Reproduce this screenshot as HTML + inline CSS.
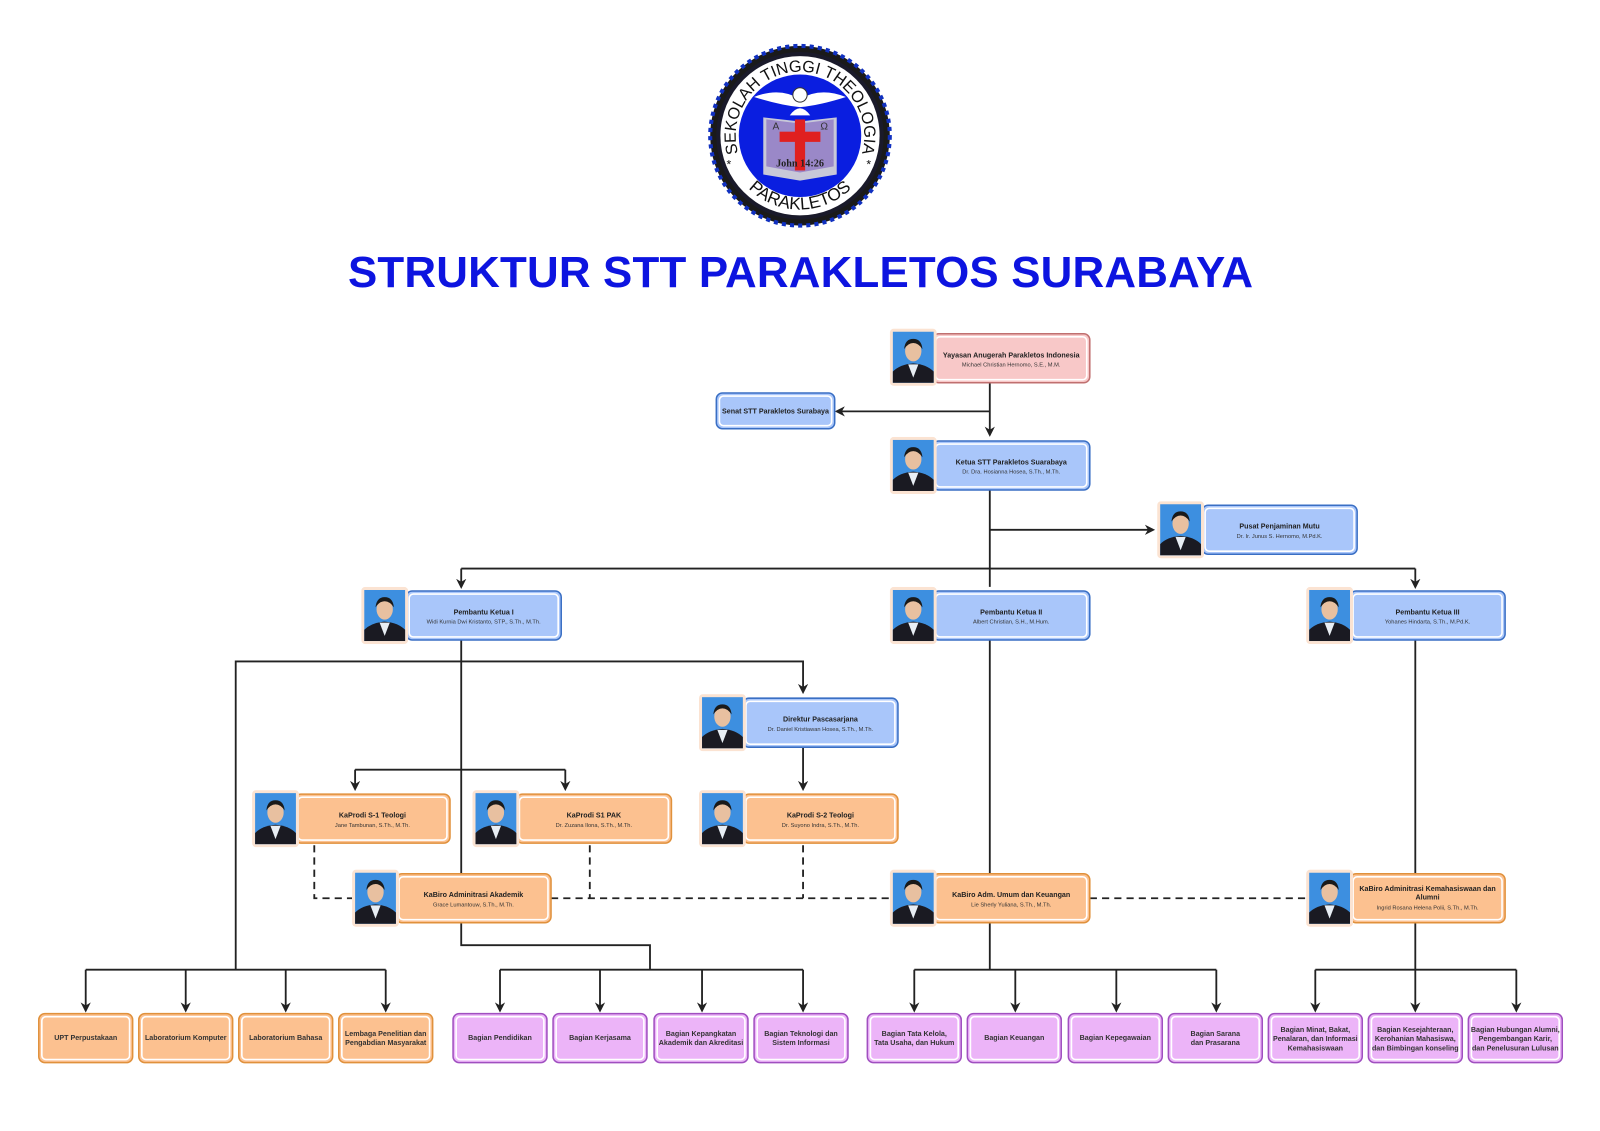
<!DOCTYPE html>
<html><head><meta charset="utf-8"><style>
html,body{margin:0;padding:0;background:#fff;}
svg{display:block}
text{font-family:"Liberation Sans",sans-serif;}
.t{font-size:7px;font-weight:bold;fill:#222;text-anchor:middle}
.s{font-size:5.6px;fill:#333;text-anchor:middle}
.b{font-size:7px;font-weight:bold;fill:#333;text-anchor:middle}
.ln{stroke:#222;stroke-width:1.8;fill:none}
.ds{stroke:#222;stroke-width:1.8;fill:none;stroke-dasharray:7,5}
.bl{fill:#a9c6fa;stroke:#3a6fc4;stroke-width:1.5}
.or{fill:#fcc190;stroke:#e0913c;stroke-width:1.5}
.pk{fill:#f8c8c8;stroke:#c07070;stroke-width:1.5}
.pu{fill:#ecb4f8;stroke:#a050c0;stroke-width:1.5}
.in{fill:none;stroke:#fff;stroke-width:1.6}
</style></head><body>
<svg width="1600" height="1131" viewBox="0 0 1568 1108" preserveAspectRatio="none" xmlns="http://www.w3.org/2000/svg">
<defs>
<marker id="a" markerWidth="10" markerHeight="10" refX="8" refY="5" orient="auto" markerUnits="userSpaceOnUse"><path d="M0,0 L10,5 L0,10 L3,5 z" fill="#222"/></marker>
<symbol id="ph" viewBox="0 0 46 56">
<rect x="0" y="0" width="46" height="56" rx="4" fill="#fbe3d2"/>
<rect x="3" y="3" width="40" height="50" fill="#3d8fe0"/>
<path d="M3,53 L3,42 Q10,35 23,34 Q36,35 43,42 L43,53 z" fill="#1a1a22"/>
<path d="M18,35 L23,48 L28,35 z" fill="#e8eef4"/>
<ellipse cx="23" cy="22" rx="8" ry="10" fill="#e8c0a0"/>
<path d="M14,20 Q15,10 23,10 Q31,10 32,20 Q28,14 23,14 Q18,14 14,20z" fill="#1a1a1a"/>
</symbol>
</defs>
<rect width="1568" height="1108" fill="#fff"/>
<!-- logo -->
<g transform="translate(784,133)">
<circle r="88" fill="#1a1a1a" stroke="#1030c0" stroke-width="4" stroke-dasharray="4,4"/>
<circle r="82" fill="#1a1a2a"/>
<circle r="78" fill="#fff"/>
<circle r="60" fill="#0a1ee0"/>
<path id="arcT" d="M-57,27 A63,63 0 1 1 57,27" fill="none"/>
<path id="arcB" d="M-52,50 A72,72 0 0 0 52,50" fill="none"/>
<text font-size="16" fill="#111" style="font-family:'Liberation Sans',sans-serif"><textPath href="#arcT" startOffset="50%" text-anchor="middle">SEKOLAH TINGGI THEOLOGIA</textPath></text>
<text font-size="17" fill="#111" style="font-family:'Liberation Sans',sans-serif"><textPath href="#arcB" startOffset="50%" text-anchor="middle">PARAKLETOS</textPath></text>
<text x="-72" y="32" font-size="12" fill="#111">*</text><text x="65" y="32" font-size="12" fill="#111">*</text>
<path d="M-45,-38 Q-20,-48 0,-36 Q20,-48 45,-38 Q20,-30 0,-28 Q-20,-30 -45,-38z" fill="#fff"/>
<circle cx="0" cy="-40" r="7" fill="#fff" stroke="#333"/>
<path d="M-10,-20 Q0,-34 10,-20z" fill="#fff"/>
<path d="M-36,-18 L0,-14 L36,-18 L36,38 L0,44 L-36,38z" fill="#c8c8d8"/>
<path d="M-33,-16 L0,-12 L33,-16 L33,30 L0,36 L-33,30z" fill="#9a88c8"/>
<rect x="-5" y="-16" width="10" height="50" fill="#e02020"/>
<rect x="-20" y="-4" width="40" height="10" fill="#e02020"/>
<text x="-27" y="-6" font-size="10" fill="#333">A</text><text x="20" y="-6" font-size="10" fill="#333">Ω</text>
<text x="0" y="30" font-size="10" font-weight="bold" text-anchor="middle" fill="#222" style="font-family:'Liberation Serif',serif">John 14:26</text>
</g>
<text x="785" y="281" font-size="43" font-weight="900" fill="#0d14e0" text-anchor="middle" textLength="888" style="font-family:'Liberation Sans',sans-serif;letter-spacing:1px">STRUKTUR STT PARAKLETOS SURABAYA</text>

<!-- connectors -->
<path class="ln" d="M970,375 V426" marker-end="url(#a)"/>
<path class="ln" d="M970,403 H820" marker-end="url(#a)"/>
<path class="ln" d="M970,480 V575"/>
<path class="ln" d="M970,519 H1130" marker-end="url(#a)"/>
<path class="ln" d="M452,557 H1387"/>
<path class="ln" d="M452,557 V575" marker-end="url(#a)"/>
<path class="ln" d="M1387,557 V575" marker-end="url(#a)"/>
<path class="ln" d="M452,627 V856 M452,904 V926 H637 V950"/>
<path class="ln" d="M231,950 V648 H787 V678" marker-end="url(#a)"/>
<path class="ln" d="M348,754 H554"/>
<path class="ln" d="M348,754 V773" marker-end="url(#a)"/>
<path class="ln" d="M554,754 V773" marker-end="url(#a)"/>
<path class="ln" d="M787,732 V773" marker-end="url(#a)"/>
<path class="ds" d="M308,828 V880 H345 M540,880 H872 M1068,880 H1280 M578,828 V880 M787,828 V880"/>
<path class="ln" d="M970,627 V856 M970,904 V950 M1387,627 V856 M1387,904 V950"/>
<path class="ln" d="M84,950 H378 M490,950 H787 M896,950 H1192 M1289,950 H1486"/>
<g class="ln">
<path d="M84,950V990" marker-end="url(#a)"/><path d="M182,950V990" marker-end="url(#a)"/><path d="M280,950V990" marker-end="url(#a)"/><path d="M378,950V990" marker-end="url(#a)"/>
<path d="M490,950V990" marker-end="url(#a)"/><path d="M588,950V990" marker-end="url(#a)"/><path d="M688,950V990" marker-end="url(#a)"/><path d="M787,950V990" marker-end="url(#a)"/>
<path d="M896,950V990" marker-end="url(#a)"/><path d="M995,950V990" marker-end="url(#a)"/><path d="M1094,950V990" marker-end="url(#a)"/><path d="M1192,950V990" marker-end="url(#a)"/>
<path d="M1289,950V990" marker-end="url(#a)"/><path d="M1387,950V990" marker-end="url(#a)"/><path d="M1486,950V990" marker-end="url(#a)"/>
</g>

<!-- nodes -->
<rect class="pk" x="914" y="327" width="154" height="48" rx="6"/><rect class="in" x="917" y="330" width="148" height="42" rx="4"/>
<use href="#ph" x="872" y="322" width="46" height="56"/>
<text class="t" x="991" y="350">Yayasan Anugerah Parakletos Indonesia</text><text class="s" x="991" y="359">Michael Christian Hernomo, S.E., M.M.</text>

<rect class="bl" x="702" y="385" width="116" height="35" rx="6"/><rect class="in" x="705" y="388" width="110" height="29" rx="4"/>
<text class="t" x="760" y="405">Senat STT Parakletos Surabaya</text>

<rect class="bl" x="914" y="432" width="154" height="48" rx="6"/><rect class="in" x="917" y="435" width="148" height="42" rx="4"/>
<use href="#ph" x="872" y="428" width="46" height="56"/>
<text class="t" x="991" y="455">Ketua STT Parakletos Suarabaya</text><text class="s" x="991" y="464">Dr. Dra. Hosianna Hosea, S.Th., M.Th.</text>

<rect class="bl" x="1178" y="495" width="152" height="48" rx="6"/><rect class="in" x="1181" y="498" width="146" height="42" rx="4"/>
<use href="#ph" x="1134" y="491" width="46" height="56"/>
<text class="t" x="1254" y="518">Pusat Penjaminan Mutu</text><text class="s" x="1254" y="527">Dr. Ir. Junus S. Hernomo, M.Pd.K.</text>

<rect class="bl" x="398" y="579" width="152" height="48" rx="6"/><rect class="in" x="401" y="582" width="146" height="42" rx="4"/>
<use href="#ph" x="354" y="575" width="46" height="56"/>
<text class="t" x="474" y="602">Pembantu Ketua I</text><text class="s" x="474" y="611">Widi Kurnia Dwi Kristanto, STP., S.Th., M.Th.</text>

<rect class="bl" x="914" y="579" width="154" height="48" rx="6"/><rect class="in" x="917" y="582" width="148" height="42" rx="4"/>
<use href="#ph" x="872" y="575" width="46" height="56"/>
<text class="t" x="991" y="602">Pembantu Ketua II</text><text class="s" x="991" y="611">Albert Christian, S.H., M.Hum.</text>

<rect class="bl" x="1323" y="579" width="152" height="48" rx="6"/><rect class="in" x="1326" y="582" width="146" height="42" rx="4"/>
<use href="#ph" x="1280" y="575" width="46" height="56"/>
<text class="t" x="1399" y="602">Pembantu Ketua III</text><text class="s" x="1399" y="611">Yohanes Hindarta, S.Th., M.Pd.K.</text>

<rect class="bl" x="728" y="684" width="152" height="48" rx="6"/><rect class="in" x="731" y="687" width="146" height="42" rx="4"/>
<use href="#ph" x="685" y="680" width="46" height="56"/>
<text class="t" x="804" y="707">Direktur Pascasarjana</text><text class="s" x="804" y="716">Dr. Daniel Kristiawan Hosea, S.Th., M.Th.</text>

<rect class="or" x="289" y="778" width="152" height="48" rx="6"/><rect class="in" x="292" y="781" width="146" height="42" rx="4"/>
<use href="#ph" x="247" y="774" width="46" height="56"/>
<text class="t" x="365" y="801">KaProdi S-1 Teologi</text><text class="s" x="365" y="810">Jane Tambunan, S.Th., M.Th.</text>

<rect class="or" x="506" y="778" width="152" height="48" rx="6"/><rect class="in" x="509" y="781" width="146" height="42" rx="4"/>
<use href="#ph" x="463" y="774" width="46" height="56"/>
<text class="t" x="582" y="801">KaProdi S1 PAK</text><text class="s" x="582" y="810">Dr. Zuzana Ilona, S.Th., M.Th.</text>

<rect class="or" x="728" y="778" width="152" height="48" rx="6"/><rect class="in" x="731" y="781" width="146" height="42" rx="4"/>
<use href="#ph" x="685" y="774" width="46" height="56"/>
<text class="t" x="804" y="801">KaProdi S-2 Teologi</text><text class="s" x="804" y="810">Dr. Suyono Indra, S.Th., M.Th.</text>

<rect class="or" x="388" y="856" width="152" height="48" rx="6"/><rect class="in" x="391" y="859" width="146" height="42" rx="4"/>
<use href="#ph" x="345" y="852" width="46" height="56"/>
<text class="t" x="464" y="879">KaBiro Adminitrasi Akademik</text><text class="s" x="464" y="888">Grace Lumantouw, S.Th., M.Th.</text>

<rect class="or" x="914" y="856" width="154" height="48" rx="6"/><rect class="in" x="917" y="859" width="148" height="42" rx="4"/>
<use href="#ph" x="872" y="852" width="46" height="56"/>
<text class="t" x="991" y="879">KaBiro Adm. Umum dan Keuangan</text><text class="s" x="991" y="888">Lie Sherly Yuliana, S.Th., M.Th.</text>

<rect class="or" x="1323" y="856" width="152" height="48" rx="6"/><rect class="in" x="1326" y="859" width="146" height="42" rx="4"/>
<use href="#ph" x="1280" y="852" width="46" height="56"/>
<text class="t" x="1399" y="873">KaBiro Adminitrasi Kemahasiswaan dan</text><text class="t" x="1399" y="881">Alumni</text><text class="s" x="1399" y="891">Ingrid Rosana Helena Polii, S.Th., M.Th.</text>

<!-- bottom -->
<g>
<rect class="or" x="38" y="993" width="92" height="48" rx="6"/><rect class="in" x="41" y="996" width="86" height="42" rx="4"/>
<rect class="or" x="136" y="993" width="92" height="48" rx="6"/><rect class="in" x="139" y="996" width="86" height="42" rx="4"/>
<rect class="or" x="234" y="993" width="92" height="48" rx="6"/><rect class="in" x="237" y="996" width="86" height="42" rx="4"/>
<rect class="or" x="332" y="993" width="92" height="48" rx="6"/><rect class="in" x="335" y="996" width="86" height="42" rx="4"/>
<rect class="pu" x="444" y="993" width="92" height="48" rx="6"/><rect class="in" x="447" y="996" width="86" height="42" rx="4"/>
<rect class="pu" x="542" y="993" width="92" height="48" rx="6"/><rect class="in" x="545" y="996" width="86" height="42" rx="4"/>
<rect class="pu" x="641" y="993" width="92" height="48" rx="6"/><rect class="in" x="644" y="996" width="86" height="42" rx="4"/>
<rect class="pu" x="739" y="993" width="92" height="48" rx="6"/><rect class="in" x="742" y="996" width="86" height="42" rx="4"/>
<rect class="pu" x="850" y="993" width="92" height="48" rx="6"/><rect class="in" x="853" y="996" width="86" height="42" rx="4"/>
<rect class="pu" x="948" y="993" width="92" height="48" rx="6"/><rect class="in" x="951" y="996" width="86" height="42" rx="4"/>
<rect class="pu" x="1047" y="993" width="92" height="48" rx="6"/><rect class="in" x="1050" y="996" width="86" height="42" rx="4"/>
<rect class="pu" x="1145" y="993" width="92" height="48" rx="6"/><rect class="in" x="1148" y="996" width="86" height="42" rx="4"/>
<rect class="pu" x="1243" y="993" width="92" height="48" rx="6"/><rect class="in" x="1246" y="996" width="86" height="42" rx="4"/>
<rect class="pu" x="1341" y="993" width="92" height="48" rx="6"/><rect class="in" x="1344" y="996" width="86" height="42" rx="4"/>
<rect class="pu" x="1439" y="993" width="92" height="48" rx="6"/><rect class="in" x="1442" y="996" width="86" height="42" rx="4"/>
</g>
<g class="b">
<text class="b" x="84" y="1019">UPT Perpustakaan</text>
<text class="b" x="182" y="1019">Laboratorium Komputer</text>
<text class="b" x="280" y="1019">Laboratorium Bahasa</text>
<text class="b" x="378" y="1015">Lembaga Penelitian dan</text><text class="b" x="378" y="1024">Pengabdian Masyarakat</text>
<text class="b" x="490" y="1019">Bagian Pendidikan</text>
<text class="b" x="588" y="1019">Bagian Kerjasama</text>
<text class="b" x="687" y="1015">Bagian Kepangkatan</text><text class="b" x="687" y="1024">Akademik dan Akreditasi</text>
<text class="b" x="785" y="1015">Bagian Teknologi dan</text><text class="b" x="785" y="1024">Sistem Informasi</text>
<text class="b" x="896" y="1015">Bagian Tata Kelola,</text><text class="b" x="896" y="1024">Tata Usaha, dan Hukum</text>
<text class="b" x="994" y="1019">Bagian Keuangan</text>
<text class="b" x="1093" y="1019">Bagian Kepegawaian</text>
<text class="b" x="1191" y="1015">Bagian Sarana</text><text class="b" x="1191" y="1024">dan Prasarana</text>
<text class="b" x="1289" y="1011">Bagian Minat, Bakat,</text><text class="b" x="1289" y="1020">Penalaran, dan Informasi</text><text class="b" x="1289" y="1029">Kemahasiswaan</text>
<text class="b" x="1387" y="1011">Bagian Kesejahteraan,</text><text class="b" x="1387" y="1020">Kerohanian Mahasiswa,</text><text class="b" x="1387" y="1029">dan Bimbingan konseling</text>
<text class="b" x="1485" y="1011">Bagian Hubungan Alumni,</text><text class="b" x="1485" y="1020">Pengembangan Karir,</text><text class="b" x="1485" y="1029">dan Penelusuran Lulusan</text>
</g>
</svg>
</body></html>
